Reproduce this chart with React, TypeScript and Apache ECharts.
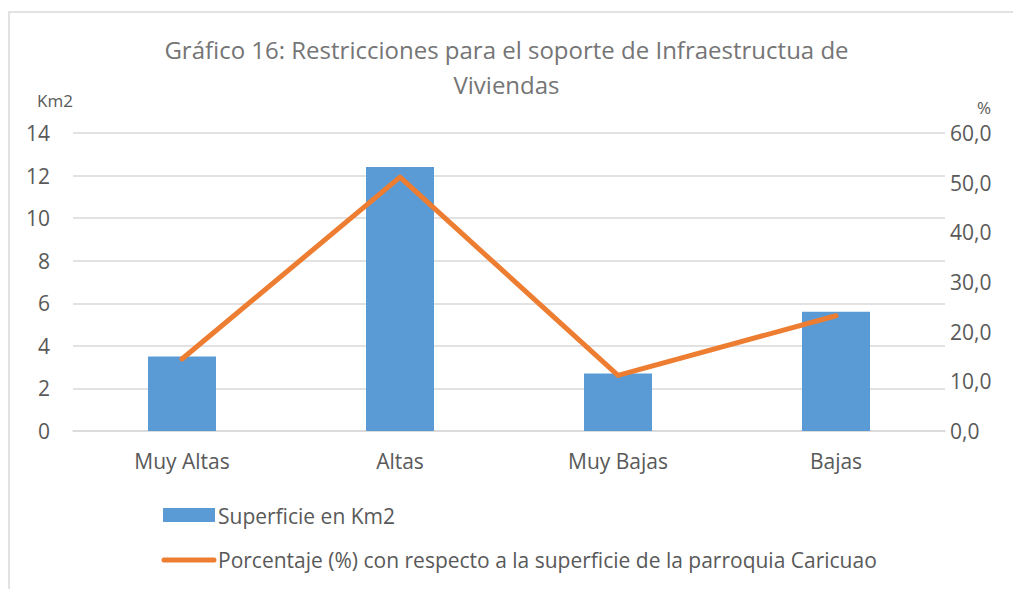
import React, { useEffect, useRef } from "react";
import * as echarts from "echarts";

const categories = ["Muy Altas", "Altas", "Muy Bajas", "Bajas"];
const superficieKm2 = [3.5, 12.4, 2.7, 5.6];
const porcentaje = [14.5, 51.1, 11.2, 23.2];
const leftTicks = { min: 0, max: 14, interval: 2 };
const rightTicks = { min: 0, max: 60, interval: 10 };
const titleText = "Gráfico 16: Restricciones para el soporte de Infraestructua de\nViviendas";
const barName = "Superficie en Km2";
const lineName = "Porcentaje (%) con respecto a la superficie de la parroquia Caricuao";

const FONT = "'Open Sans', 'Noto Sans', sans-serif";
const TXT = "#595959";
const BAR = "#5B9BD5";
const LINE = "#ED7D31";

export default function App() {
  const ref = useRef<HTMLDivElement>(null);
  useEffect(() => {
    if (!ref.current) return;
    const chart = echarts.init(ref.current, undefined, { renderer: "svg" });
    chart.setOption({
      animation: false,
      backgroundColor: "#ffffff",
      textStyle: { fontFamily: FONT },
      title: {
        text: titleText,
        left: "center",
        top: 27,
        textStyle: {
          fontFamily: FONT,
          fontSize: 24,
          fontWeight: "normal",
          color: "#757575",
          lineHeight: 35,
        },
      },
      graphic: [
        {
          type: "rect",
          shape: { x: 9, y: 12, width: 1020, height: 600 },
          style: { fill: "none", stroke: "#d9d9d9", lineWidth: 1.5 },
          silent: true,
        },
        {
          type: "text",
          x: 37,
          y: 100,
          style: { text: "Km2", fontFamily: FONT, fontSize: 17, fill: TXT, verticalAlign: "middle" },
        },
        {
          type: "text",
          x: 977,
          y: 107,
          style: { text: "%", fontFamily: FONT, fontSize: 17, fill: TXT, verticalAlign: "middle" },
        },
        {
          type: "rect",
          shape: { x: 163, y: 508, width: 52, height: 14 },
          style: { fill: BAR },
        },
        {
          type: "text",
          x: 218,
          y: 516,
          style: { text: barName, fontFamily: FONT, fontSize: 21, fill: TXT, verticalAlign: "middle" },
        },
        {
          type: "line",
          shape: { x1: 164, y1: 560, x2: 214, y2: 560 },
          style: { stroke: LINE, lineWidth: 5, lineCap: "round" },
        },
        {
          type: "text",
          x: 218,
          y: 560,
          style: { text: lineName, fontFamily: FONT, fontSize: 21, fill: TXT, verticalAlign: "middle" },
        },
      ],
      grid: { left: 73, right: 68, top: 133, bottom: 158, containLabel: false },
      xAxis: {
        type: "category",
        data: categories,
        axisLine: { show: true, lineStyle: { color: "#d9d9d9", width: 1.5 } },
        axisTick: { show: false },
        axisLabel: { color: TXT, fontSize: 21, fontFamily: FONT, margin: 19 },
      },
      yAxis: [
        {
          type: "value",
          min: leftTicks.min,
          max: leftTicks.max,
          interval: leftTicks.interval,
          axisLine: { show: false },
          axisTick: { show: false },
          axisLabel: { color: TXT, fontSize: 21, fontFamily: FONT, margin: 23 },
          splitLine: { lineStyle: { color: "#d9d9d9", width: 1.5 } },
        },
        {
          type: "value",
          min: rightTicks.min,
          max: rightTicks.max,
          interval: rightTicks.interval,
          position: "right",
          axisLine: { show: false },
          axisTick: { show: false },
          splitLine: { show: false },
          axisLabel: {
            color: TXT,
            fontSize: 21,
            fontFamily: FONT,
            margin: 5,
            formatter: (v: number) => v.toFixed(1).replace(".", ","),
          },
        },
      ],
      series: [
        {
          name: barName,
          type: "bar",
          data: superficieKm2,
          barWidth: 68,
          itemStyle: { color: BAR },
          yAxisIndex: 0,
        },
        {
          name: lineName,
          type: "line",
          data: porcentaje,
          yAxisIndex: 1,
          symbol: "none",
          lineStyle: { color: LINE, width: 5, cap: "round", join: "round" },
          itemStyle: { color: LINE },
        },
      ],
    });
    return () => chart.dispose();
  }, []);
  return (
    <div
      ref={ref}
      style={{ position: "fixed", left: 0, top: 0, width: 1013, height: 589 }}
    />
  );
}
